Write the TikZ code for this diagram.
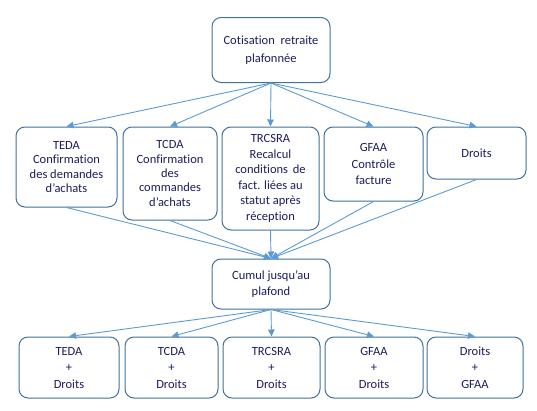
\documentclass[tikz,border=0pt]{standalone}
\usepackage{fontspec}
\setmainfont{Carlito}[Ligatures=NoCommon]
\usetikzlibrary{arrows.meta}
\definecolor{bordercol}{RGB}{65,113,156}
\definecolor{arrowcol}{RGB}{91,155,213}
\definecolor{textcol}{RGB}{28,28,96}
\tikzset{
  box/.style={draw=bordercol, line width=1pt, rounded corners=9pt, align=center,
    text=textcol, inner sep=0pt, fill=white},
  arr/.style={draw=arrowcol, line width=0.9pt, -{Triangle[length=7pt,width=6.5pt]}},
}
\newcommand{\fsA}{\fontsize{12.5}{17.5}\selectfont}
\newcommand{\fsB}{\fontsize{12.5}{14.3}\selectfont}
\newcommand{\fsC}{\fontsize{12.5}{15.5}\selectfont}
\newcommand{\fsD}{\fontsize{12.5}{16.5}\selectfont}
\begin{document}
\begin{tikzpicture}[x=1pt,y=-1pt]
\useasboundingbox (0,0) rectangle (537,410);
% top
\node[box, font=\fsA, minimum width=118pt, minimum height=65pt] (top) at (271,50)
  {Cotisation\hspace{3pt} retraite\\plafonnée};
% row 2
\node[box, font=\fsB, minimum width=101pt, minimum height=80pt] (r1) at (66.5,167)
  {TEDA\\Confirmation\\des demandes\\d’achats};
\node[box, font=\fsB, minimum width=94pt, minimum height=93pt] (r2) at (170,173.5)
  {TCDA\\Confirmation\\des\\commandes\\d’achats};
\node[box, font=\fsC, minimum width=97pt, minimum height=103pt] (r3) at (270.5,178.5)
  {TRCSRA\\Recalcul\\conditions\hspace{2pt} de\\fact. liées au\\statut après\\réception};
\node[box, font=\fsD, minimum width=99pt, minimum height=74pt] (r4) at (373.5,164)
  {GFAA\\Contrôle\\facture};
\node[box, font=\fsB, minimum width=99pt, minimum height=52pt] (r5) at (476.5,153)
  {Droits};
% cumul
\node[box, font=\fsD, minimum width=118pt, minimum height=50pt] (cum) at (271,284)
  {Cumul jusqu’au\\plafond};
% bottom row
\node[box, font=\fsD, minimum width=100pt, minimum height=61pt, text depth=-1.5pt] (b1) at (69,367.5)
  {TEDA\\+\\Droits};
\node[box, font=\fsD, minimum width=93pt, minimum height=61pt] (b2) at (171.5,367.5)
  {TCDA\\+\\Droits};
\node[box, font=\fsD, minimum width=97pt, minimum height=61pt] (b3) at (271.5,367.5)
  {TRCSRA\\+\\Droits};
\node[box, font=\fsD, minimum width=98pt, minimum height=61pt] (b4) at (374,367.5)
  {GFAA\\+\\Droits};
\node[box, font=\fsD, minimum width=96pt, minimum height=61pt] (b5) at (475,367.5)
  {Droits\\+\\GFAA};
% connectors
\foreach \n in {r1,r2,r3,r4,r5} {
  \draw[arr] (top.south) -- (\n.north);
  \draw[arr] (\n.south) -- (cum.north);
}
\foreach \n in {b1,b2,b3,b4,b5} {
  \draw[arr] (cum.south) -- (\n.north);
}
\end{tikzpicture}
\end{document}
